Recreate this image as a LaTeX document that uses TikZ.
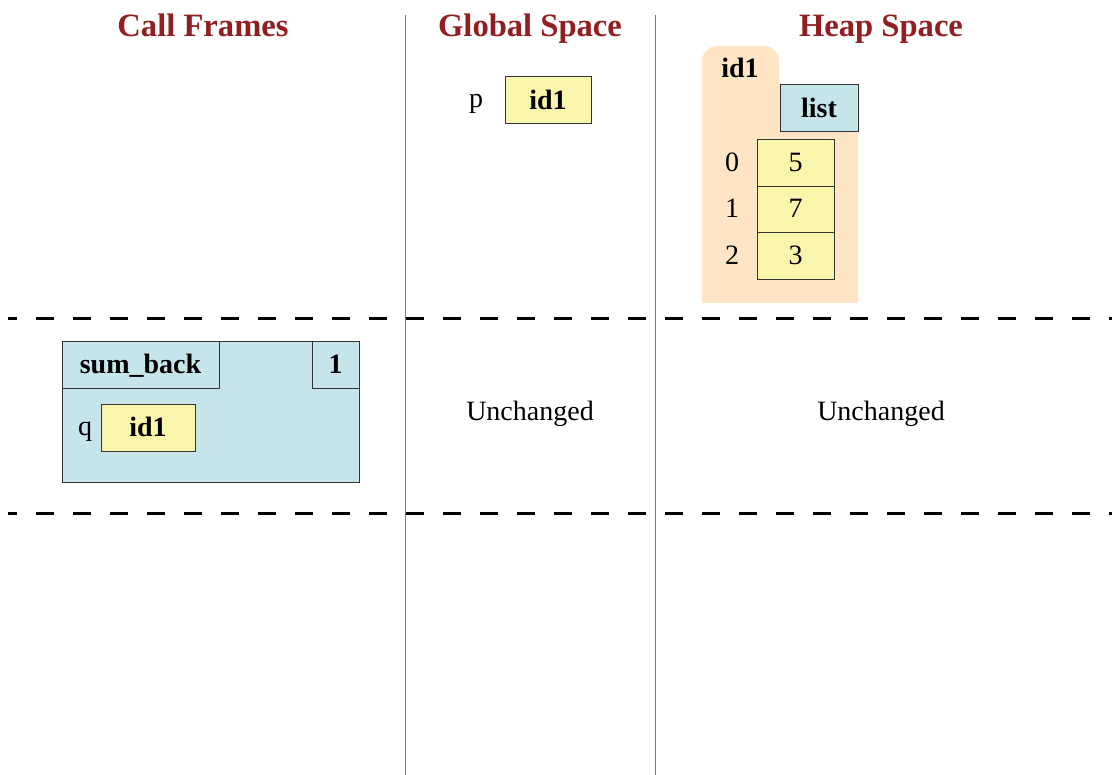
\documentclass[tikz,border=0pt]{standalone}
\usepackage{fontspec}
\setmainfont{Liberation Serif}
\definecolor{titlered}{RGB}{146,30,34}
\definecolor{varyellow}{RGB}{249,245,170}
\definecolor{framecyan}{RGB}{197,229,234}
\definecolor{heapbeige}{RGB}{254,229,198}
\definecolor{divgray}{RGB}{120,120,120}
\begin{document}
\begin{tikzpicture}[x=1pt,y=-1pt,
  every node/.style={anchor=base, inner sep=0pt},
  title/.style={font=\fontsize{32.6}{36}\selectfont\bfseries, text=titlered},
  lbl/.style={font=\fontsize{28}{32}\selectfont},
  blbl/.style={font=\fontsize{28}{32}\selectfont\bfseries},
  valbox/.style={draw=black!80, line width=1pt, fill=varyellow},
  cyanbox/.style={draw=black!80, line width=1pt, fill=framecyan},
  divider/.style={draw=divgray, line width=1.6pt},
  sep/.style={draw=black, line width=3pt, dash pattern=on 18pt off 19pt, dash phase=9pt}
]
\useasboundingbox (0,0) rectangle (1112,775);

% dividers
\coordinate (v1t) at (405.5,15); \coordinate (v1b) at (405.5,775);
\coordinate (v2t) at (655.5,15); \coordinate (v2b) at (655.5,775);
\draw[divider] (v1t) -- (v1b);
\draw[divider] (v2t) -- (v2b);
\coordinate (h1l) at (8,319); \coordinate (h1r) at (1112,319);
\coordinate (h2l) at (8,514); \coordinate (h2r) at (1112,514);
\draw[sep] (h1l) -- (h1r);
\draw[sep] (h2l) -- (h2r);

% titles
\node[title] (t1) at (203,36.5) {Call Frames};
\node[title] (t2) at (530,36.5) {Global Space};
\node[title] (t3) at (881,36.5) {Heap Space};

% global
\node[lbl] (p) at (476,108) {p};
\filldraw[valbox] (505,77) rectangle (591,124);
\node[blbl] (pid) at (548,110) {id1};

% heap folder
\fill[heapbeige] (702,303) -- (702,61) arc[start angle=180,end angle=270,radius=15] -- (764,46)
  arc[start angle=270,end angle=360,radius=15] -- (779,85) -- (858,85) -- (858,303) -- cycle;
\node[blbl] (hid) at (740,77.5) {id1};
\filldraw[cyanbox] (780,85) rectangle (858,132);
\node[blbl] (list) at (819,117.5) {list};
\filldraw[valbox] (757,140) rectangle (834,187);
\filldraw[valbox] (757,187) rectangle (834,233);
\filldraw[valbox] (757,233) rectangle (834,280);
\node[lbl] (v0) at (795.5,172) {5};
\node[lbl] (v1) at (795.5,218) {7};
\node[lbl] (v2) at (795.5,264.5) {3};
\node[lbl] (i0) at (732,172) {0};
\node[lbl] (i1) at (732,218) {1};
\node[lbl] (i2) at (732,264.5) {2};

% call frame
\filldraw[cyanbox] (62,342) rectangle (359,483);
\draw[draw=black!80, line width=1pt] (62,342) rectangle (219,389);
\draw[draw=black!80, line width=1pt] (312,342) rectangle (359,389);
\node[blbl] (fn) at (140.5,374) {sum\_back};
\node[blbl] (ln) at (335.5,374) {1};
\node[lbl] (q) at (85,435.5) {q};
\filldraw[valbox] (101,405) rectangle (195,452);
\node[blbl] (qid) at (148,437) {id1};

% unchanged
\node[lbl] (u1) at (530,420.5) {Unchanged};
\node[lbl] (u2) at (881,420.5) {Unchanged};
\end{tikzpicture}
\end{document}
